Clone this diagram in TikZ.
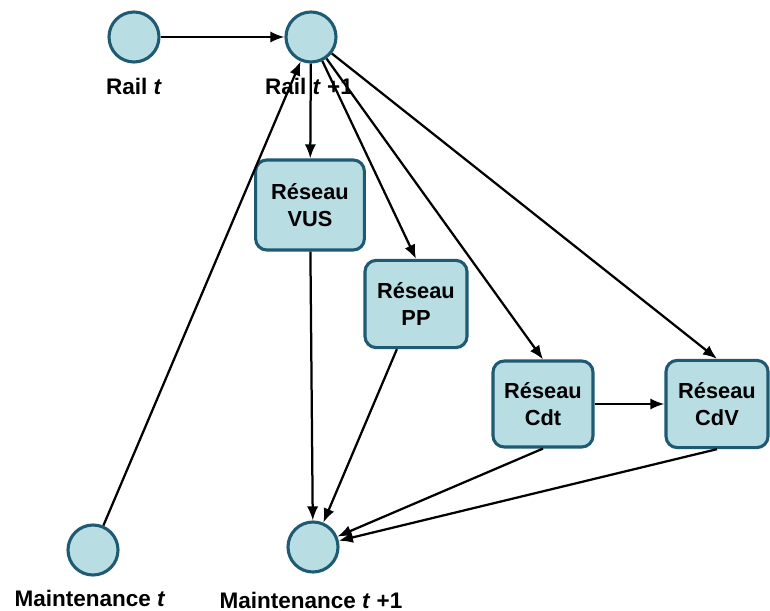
\documentclass[tikz,border=0pt]{standalone}
\usepackage{fontspec}
\setmainfont{Liberation Sans}
\usepackage{xcolor}
\usetikzlibrary{arrows.meta,positioning}
\definecolor{etatfill}{HTML}{B8DDE3}
\definecolor{etatdraw}{HTML}{1F5A73}

\begin{document}
\begin{tikzpicture}[x=0.025cm,y=-0.025cm,
    etat/.style={circle,draw=etatdraw,fill=etatfill,line width=2.2pt,minimum size=1.25cm,inner sep=0pt},
    reseau/.style={rectangle,rounded corners=8pt,draw=etatdraw,fill=etatfill,line width=2.2pt,
        minimum width=2.55cm,minimum height=2.18cm,align=center,font=\fontsize{15.5}{19}\selectfont\bfseries},
    lbl/.style={font=\fontsize{16}{19}\selectfont\bfseries,inner sep=0pt},
    fleche/.style={-{Latex[length=10pt,width=8pt]},line width=1.6pt}]
        \useasboundingbox (0,0) rectangle (770,611);

        % Time slices
        \node[etat] (railt) at (134,37) {};
        \node[etat] (railt1) at (311,37) {};
        \node[etat] (maintt) at (93,550) {};
        \node[etat] (maintt1) at (313,547) {};

        % Labels
        \node[lbl] (lrailt) at (134,86) {Rail \textit{t}};
        \node[lbl] (lrailt1) at (309,86) {Rail \textit{t} +1};
        \node[lbl] (lmaintt) at (90,598) {Maintenance \textit{t}};
        \node[lbl] (lmaintt1) at (311,600) {Maintenance \textit{t} +1};

        % Networks
        \node[reseau,minimum width=2.72cm,minimum height=2.25cm] (vus) at (310,205) {Réseau\\VUS};
        \node[reseau] (pp) at (416,304) {Réseau\\PP};
        \node[reseau,minimum width=2.5cm,minimum height=2.15cm] (cdt) at (543,404) {Réseau\\Cdt};
        \node[reseau] (cdv) at (717,404) {Réseau\\CdV};

        % Arcs
        \draw[fleche] (railt) -- (railt1);
        \draw[fleche] (maintt) -- (railt1);
        \draw[fleche] (railt1) -- (vus);
        \draw[fleche] (railt1) -- (pp.north);
        \draw[fleche] (railt1) -- (cdt.north);
        \draw[fleche] (railt1) -- (cdv.north);
        \draw[fleche] (cdt) -- (cdv);
        \draw[fleche] (vus) -- (maintt1);
        \draw[fleche] (pp) -- (maintt1);
        \draw[fleche] (cdt.south) -- (maintt1);
        \draw[fleche] (cdv.south) -- (maintt1);

    \end{tikzpicture}
\end{document}
